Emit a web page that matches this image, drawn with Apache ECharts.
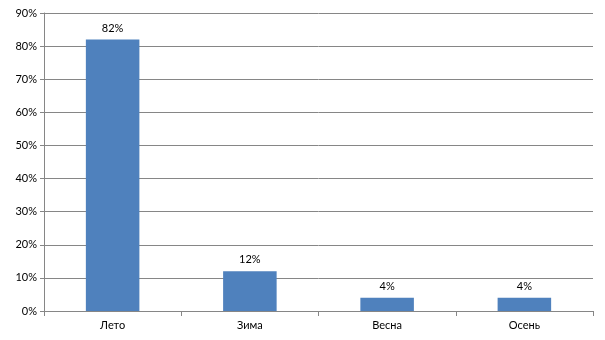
<!DOCTYPE html>
<html><head><meta charset="utf-8">
<script src="https://cdn.jsdelivr.net/npm/echarts@6/dist/echarts.min.js"></script>
<style>html,body{margin:0;padding:0;background:#fff}#c{width:605px;height:340px}</style>
</head><body><div id="c"></div>
<script>
const categories = ['Лето', 'Зима', 'Весна', 'Осень'];
const values = [82, 12, 4, 4];
const yTicks = [0, 10, 20, 30, 40, 50, 60, 70, 80, 90];

const chart = echarts.init(document.getElementById('c'), null, {renderer: 'canvas'});
const font = 'Lato, "Open Sans", sans-serif';
chart.setOption({
  animation: false,
  grid: {left: 44, right: 12, top: 13, bottom: 29, containLabel: false},
  xAxis: {
    type: 'category', data: categories,
    axisLine: {lineStyle: {color: '#868686', width: 1}},
    axisTick: {show: true, length: 5, alignWithLabel: false, lineStyle: {color: '#868686'}},
    axisLabel: {color: '#000', fontFamily: font, fontSize: 11, margin: 9}
  },
  yAxis: {
    type: 'value', min: yTicks[0], max: yTicks[yTicks.length - 1], interval: 10,
    axisLine: {show: true, lineStyle: {color: '#868686', width: 1}},
    axisTick: {show: true, length: 4, lineStyle: {color: '#868686'}},
    splitLine: {show: true, lineStyle: {color: '#868686', width: 1}},
    axisLabel: {color: '#000', fontFamily: font, fontSize: 11, margin: 7, formatter: v => v + '%'}
  },
  series: [{
    type: 'bar', data: values, barWidth: '39%',
    itemStyle: {color: '#4F81BD'},
    label: {show: true, position: 'top', distance: 6, color: '#000', fontFamily: font, fontSize: 11, formatter: p => p.value + '%'}
  }]
});
</script></body></html>
